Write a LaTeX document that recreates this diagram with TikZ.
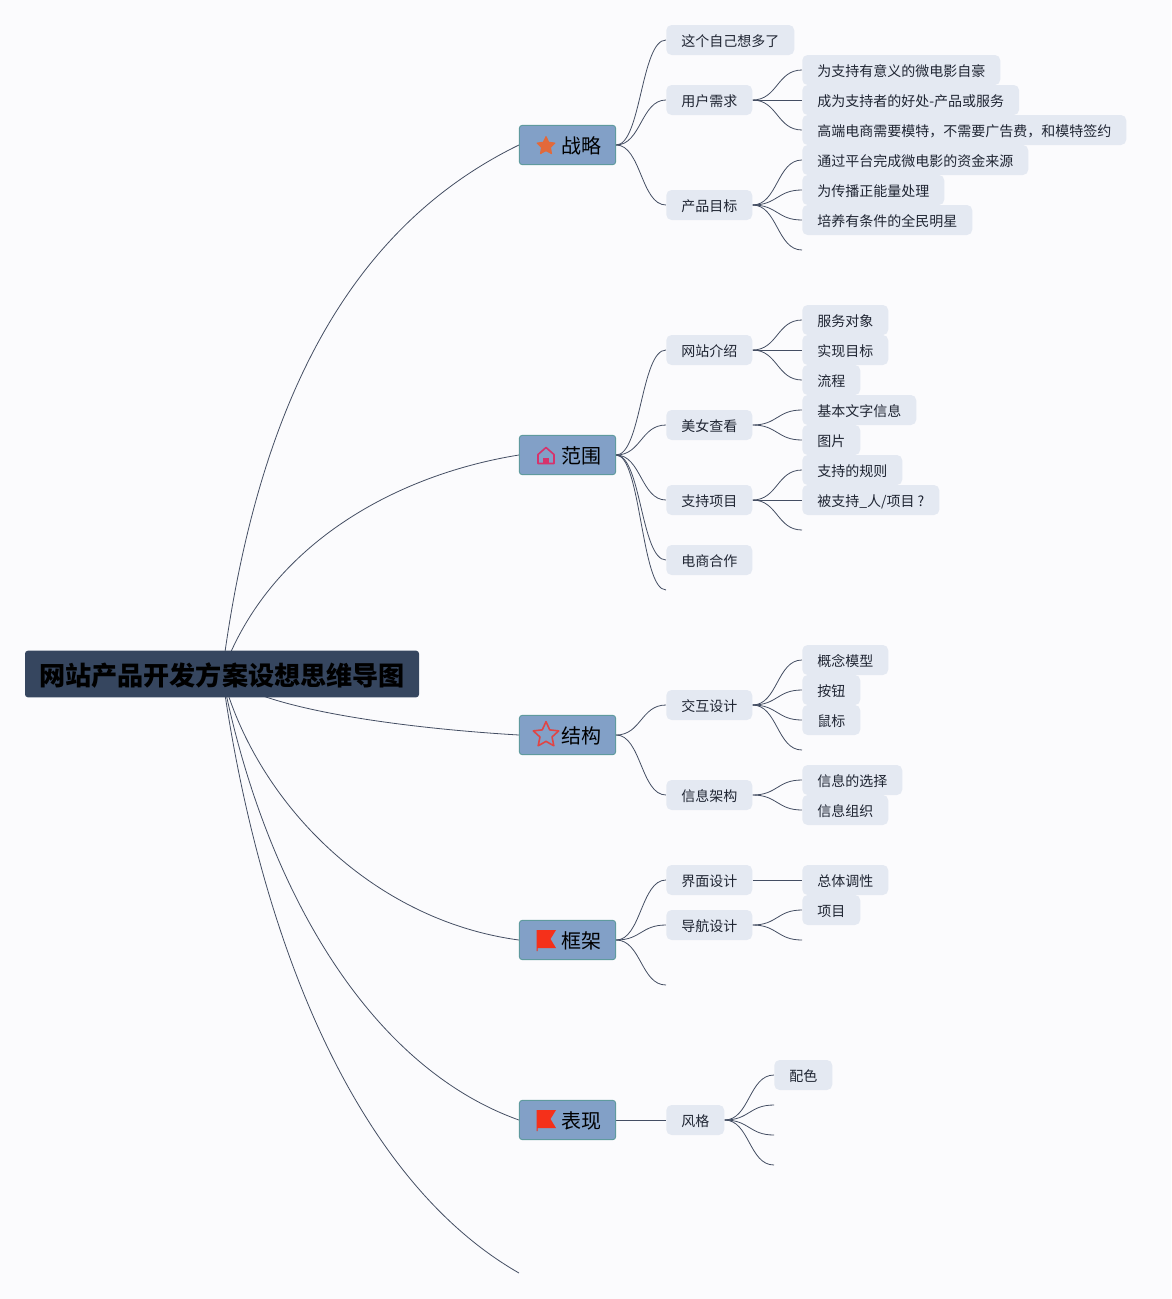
\documentclass[tikz,border=0pt]{standalone}
\usepackage{fontspec}
\setmainfont{Noto Sans CJK SC}
\usetikzlibrary{backgrounds,shapes.geometric}
\definecolor{pagebg}{HTML}{FBFBFD}
\definecolor{rootfill}{HTML}{36465F}
\definecolor{mainfill}{HTML}{82A0C7}
\definecolor{mainedge}{HTML}{5F9A9E}
\definecolor{subfill}{HTML}{E4E9F2}
\definecolor{subtext}{HTML}{1F2533}
\definecolor{linkcol}{HTML}{444E63}
\definecolor{staror}{HTML}{E2693A}
\definecolor{housecol}{HTML}{D6336C}
\definecolor{starred}{HTML}{E04545}
\definecolor{flagcol}{HTML}{F5301A}
\tikzset{
  rootbox/.style={fill=rootfill,rounded corners=2.2pt,minimum width=295.5pt,minimum height=35pt,inner sep=0pt,
    font=\fontsize{19.6pt}{20pt}\selectfont\bfseries,text=black,text height=18pt,text depth=1.2pt},
  mainbox/.style={draw=mainedge,line width=0.7pt,fill=mainfill,rounded corners=2.2pt,minimum width=72.2pt,minimum height=29.5pt,inner sep=0pt,
    font=\fontsize{15pt}{16pt}\selectfont,text=black,text height=14.6pt,text depth=1.2pt},
  subbox/.style={fill=subfill,rounded corners=4pt,minimum height=22.5pt,inner xsep=11.25pt,inner ysep=0pt,
    font=\fontsize{10.5pt}{11pt}\selectfont,text=subtext,text height=10.8pt,text depth=0.4pt,anchor=west},
  link/.style={draw=linkcol,line width=0.6pt},
  rootlink/.style={draw=linkcol,line width=0.6pt}
}
\newcommand{\conn}[2]{\draw[link] (#1.east) .. controls +(25,0) and +(-25,0) .. (#2);}
\newcommand{\lbl}[3]{\node[subbox] (#1) at #2 {#3};}
\begin{document}
\begin{tikzpicture}[x=0.75pt,y=-0.75pt]
\useasboundingbox (0,0) rectangle (1171,1299);
% root and main topics
\node[rootbox] (root) at (222,674) {网站产品开发方案设想思维导图};
\node[mainbox] (m1) at (567.5,145) {\hspace{21.5pt}战略};
\node[mainbox] (m2) at (567.5,455) {\hspace{21.5pt}范围};
\node[mainbox] (m3) at (567.5,735) {\hspace{21.5pt}结构};
\node[mainbox] (m4) at (567.5,940) {\hspace{21.5pt}框架};
\node[mainbox] (m5) at (567.5,1120) {\hspace{21.5pt}表现};
\coordinate (m6) at (519,1273);
% icons
\node[star,star points=5,star point ratio=2,fill=staror,draw=staror,line join=round,line width=0.8pt,minimum size=14pt,inner sep=0pt] (i1) at (546,146) {};
\begin{scope}[shift={(546,455.5)},line join=round]
  \draw[draw=housecol,line width=1.2pt] (-8,8) -- (-8,-1) -- (0,-8) -- (8,-1) -- (8,8) -- cycle;
  \fill[housecol] (-3,8) -- (-3,2) -- (3,2) -- (3,8) -- cycle;
\end{scope}
\node[star,star points=5,star point ratio=2.1,draw=starred,line width=1.2pt,fill=none,line join=round,minimum size=20pt,inner sep=0pt] (i3) at (546,735) {};
\foreach \yy in {940,1120}{
  \begin{scope}[shift={(536.5,\yy)}]
    \fill[flagcol] (0,-10) -- (19.5,-10) -- (14,-1) -- (19.5,8) -- (1,8) -- (1,11) -- (0,11) -- cycle;
  \end{scope}
}
% level 2
\lbl{a1}{(666,40)}{这个自己想多了}
\lbl{a2}{(666,100)}{用户需求}
\lbl{a3}{(666,205)}{产品目标}
\lbl{b1}{(666,350)}{网站介绍}
\lbl{b2}{(666,425)}{美女查看}
\lbl{b3}{(666,500)}{支持项目}
\lbl{b4}{(666,560)}{电商合作}
\lbl{c1}{(666,705)}{交互设计}
\lbl{c2}{(666,795)}{信息架构}
\lbl{d1}{(666,880)}{界面设计}
\lbl{d2}{(666,925)}{导航设计}
\lbl{e1}{(666,1120)}{风格}
% level 3
\lbl{a21}{(802,70)}{为支持有意义的微电影自豪}
\lbl{a22}{(802,100)}{成为支持者的好处-产品或服务}
\lbl{a23}{(802,130)}{高端电商需要模特，不需要广告费，和模特签约}
\lbl{a31}{(802,160)}{通过平台完成微电影的资金来源}
\lbl{a32}{(802,190)}{为传播正能量处理}
\lbl{a33}{(802,220)}{培养有条件的全民明星}
\lbl{b11}{(802,320)}{服务对象}
\lbl{b12}{(802,350)}{实现目标}
\lbl{b13}{(802,380)}{流程}
\lbl{b21}{(802,410)}{基本文字信息}
\lbl{b22}{(802,440)}{图片}
\lbl{b31}{(802,470)}{支持的规则}
\lbl{b32}{(802,500)}{被支持\_人/项目 ?}
\lbl{c11}{(802,660)}{概念模型}
\lbl{c12}{(802,690)}{按钮}
\lbl{c13}{(802,720)}{鼠标}
\lbl{c21}{(802,780)}{信息的选择}
\lbl{c22}{(802,810)}{信息组织}
\lbl{d11}{(802,880)}{总体调性}
\lbl{d21}{(802,910)}{项目}
\lbl{e11}{(774,1075)}{配色}
% free ends
\coordinate (a34) at (802,250);
\coordinate (b33) at (802,530);
\coordinate (b5) at (666,590);
\coordinate (c14) at (802,750);
\coordinate (d22) at (802,940);
\coordinate (d3) at (666,985);
\coordinate (e12) at (774,1105);
\coordinate (e13) at (774,1135);
\coordinate (e14) at (774,1165);
\begin{pgfonlayer}{background}
\fill[pagebg] (0,0) rectangle (1171,1299);
\draw[rootlink] (root.center) .. controls (258,394) and (355,225) .. (m1.west);
\draw[rootlink] (root.center) .. controls (268,545) and (395,475) .. (m2.west);
\draw[rootlink] (root.center) .. controls (255,708) and (400,728) .. (m3.west);
\draw[rootlink] (root.center) .. controls (255,800) and (370,920) .. (m4.west);
\draw[rootlink] (root.center) .. controls (262,880) and (365,1065) .. (m5.west);
\draw[rootlink] (root.center) .. controls (262,960) and (365,1185) .. (m6);
\conn{m1}{a1.west}\conn{m1}{a2.west}\conn{m1}{a3.west}
\conn{a2}{a21.west}\conn{a2}{a22.west}\conn{a2}{a23.west}
\conn{a3}{a31.west}\conn{a3}{a32.west}\conn{a3}{a33.west}\conn{a3}{a34}
\conn{m2}{b1.west}\conn{m2}{b2.west}\conn{m2}{b3.west}\conn{m2}{b4.west}\conn{m2}{b5}
\conn{b1}{b11.west}\conn{b1}{b12.west}\conn{b1}{b13.west}
\conn{b2}{b21.west}\conn{b2}{b22.west}
\conn{b3}{b31.west}\conn{b3}{b32.west}\conn{b3}{b33}
\conn{m3}{c1.west}\conn{m3}{c2.west}
\conn{c1}{c11.west}\conn{c1}{c12.west}\conn{c1}{c13.west}\conn{c1}{c14}
\conn{c2}{c21.west}\conn{c2}{c22.west}
\conn{m4}{d1.west}\conn{m4}{d2.west}\conn{m4}{d3}
\conn{d1}{d11.west}
\conn{d2}{d21.west}\conn{d2}{d22}
\conn{m5}{e1.west}
\conn{e1}{e11.west}\conn{e1}{e12}\conn{e1}{e13}\conn{e1}{e14}
\end{pgfonlayer}
\end{tikzpicture}
\end{document}
